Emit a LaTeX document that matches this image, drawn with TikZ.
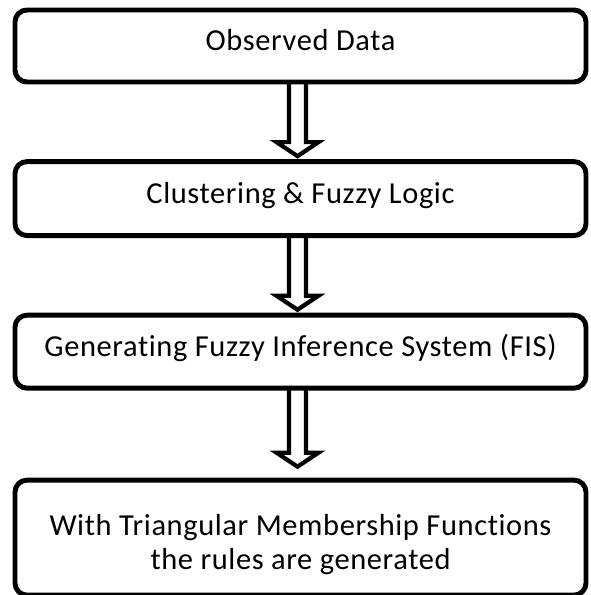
\documentclass[tikz,border=0pt]{standalone}
\usepackage{fontspec}
\setmainfont{Carlito}[Ligatures=NoCommon, LetterSpace=2]
\usetikzlibrary{calc, positioning}

% hollow down arrow from one box to the next (#1 = gap above target)
\newcommand{\flowarr}[3][0]{%
  \draw[hollow] ($(#2.south)+(-11.5,-3)$) -- ($(#3.north)+(-11.5,-17-#1)$)
    -- ($(#3.north)+(-24,-17-#1)$) -- ($(#3.north)+(-3,-3-#1)$)
    -- ($(#3.north)+(18,-17-#1)$) -- ($(#3.north)+(5.5,-17-#1)$)
    -- ($(#2.south)+(5.5,-3)$);}

\begin{document}
\begin{tikzpicture}[x=0.03cm, y=-0.03cm,
        box/.style={rectangle, draw=black, line width=4.2pt, rounded corners=0.36cm,
                    fill=white, minimum width=17.13cm, minimum height=2.16cm,
                    text height=0.6cm, text depth=0.3cm,
                    align=center, font=\fontsize{26}{29}\selectfont},
        hollow/.style={draw=black, line width=3.6pt, line join=miter},
        node distance=2.24cm]
      \useasboundingbox (0,0) rectangle (590,595);
      \node[box] (obs) at (300.5,46) {Observed Data};
      \node[box, below=of obs, minimum height=2.22cm] (clus) {Clustering \& Fuzzy Logic};
      \node[box, below=of clus, minimum height=2.19cm] (fis) {Generating Fuzzy Inference System (FIS)};
      \node[box, below=2.61cm of fis, minimum height=3.45cm, text height=2.07cm, text depth=0.18cm] (rules)
        {With Triangular Membership Functions\\the rules are generated};
      \flowarr{obs}{clus}
      \flowarr{clus}{fis}
      \flowarr[8]{fis}{rules}
    \end{tikzpicture}
\end{document}
